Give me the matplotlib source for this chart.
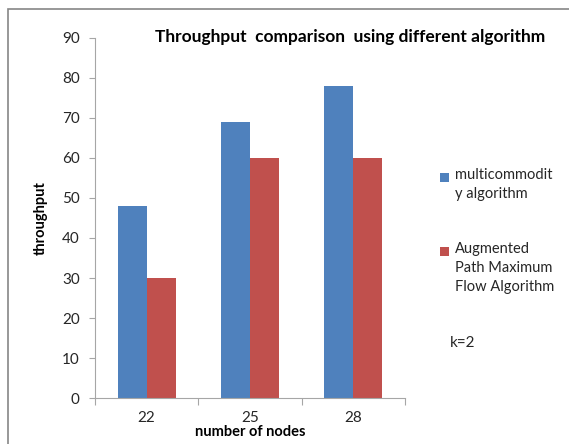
import numpy as np
import matplotlib
matplotlib.use("Agg")
import matplotlib.pyplot as plt
from matplotlib.patches import Rectangle

plt.rcParams['font.family'] = ['Lato', 'DejaVu Sans']

# data
nodes = ['22', '25', '28']
multicommodity = [48, 69, 78]
augmented = [30, 60, 60]
series_labels = ['multicommodit\ny algorithm', 'Augmented\nPath Maximum\nFlow Algorithm']

blue = '#4F81BD'
red = '#C0504D'
axis_gray = '#A6A6A6'
text_col = '#262626'

W, H = 569, 444
fig = plt.figure(figsize=(W/100, H/100), dpi=100)
ax = fig.add_axes([95/W, 1-398/H, 310/W, 360/H])

x = np.arange(len(nodes))
w = 0.28
ax.bar(x - w/2, multicommodity, w, color=blue)
ax.bar(x + w/2, augmented, w, color=red)

ax.set_xlim(-0.5, len(nodes) - 0.5)
ax.set_ylim(0, 90)
ax.set_yticks(np.arange(0, 91, 10))
ax.tick_params(axis='y', length=4, color=axis_gray, labelsize=11, labelcolor=text_col, pad=7)

# x ticks at category boundaries, labels at centres
ax.set_xticks(np.arange(-0.5, len(nodes), 1.0))
ax.set_xticklabels([])
ax.set_xticks(x, minor=True)
ax.set_xticklabels(nodes, minor=True)
ax.tick_params(axis='x', which='major', length=5, color=axis_gray)
ax.tick_params(axis='x', which='minor', length=0, labelsize=11, labelcolor=text_col, pad=9)

for s in ['top', 'right']:
    ax.spines[s].set_visible(False)
for s in ['left', 'bottom']:
    ax.spines[s].set_color(axis_gray)

ax.set_ylabel('throughput', fontsize=10.5, fontweight='bold', color='black', labelpad=10)
ax.set_xlabel('number of nodes', fontsize=10.5, fontweight='bold', color='black', labelpad=0)

fig.text(155/W, 1-37/H, 'Throughput  comparison  using different algorithm',
         fontsize=12.5, fontweight='bold', va='center', ha='left', color='black')

# legend drawn by hand, square beside the first line like excel
for lab, col, ytop in zip(series_labels, [blue, red], [168, 242]):
    fig.patches.append(Rectangle((440/W, 1-(ytop+14)/H), 9/W, 9/H, transform=fig.transFigure,
                                 facecolor=col, edgecolor='none'))
    fig.text(455/W, 1-ytop/H, lab, fontsize=10.5, va='top', ha='left', color=text_col,
             linespacing=1.45)
fig.text(450/W, 1-343/H, 'k=2', fontsize=11, va='center', color=text_col)

# outer chart border
fig.patches.append(Rectangle((8/W, -0.1), 1.2, 1 - 9/H + 0.1, transform=fig.transFigure,
                             fill=False, edgecolor='#868686', linewidth=1.2))

fig.savefig('out.png', dpi=100)
